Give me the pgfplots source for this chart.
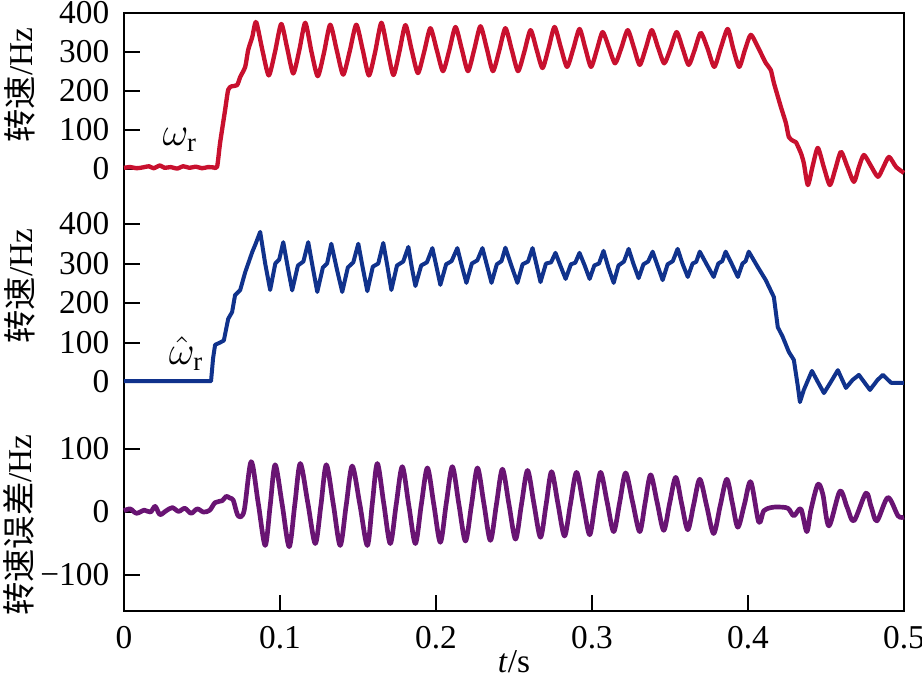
\documentclass[border=0pt]{standalone}
\usepackage{fontspec}
\setmainfont{Liberation Serif}
\newfontfamily\cjk{Noto Sans CJK SC}
\usepackage{pgfplots}
\pgfplotsset{compat=1.18}
\definecolor{cred}{RGB}{200,16,46}
\definecolor{cblue}{RGB}{16,50,140}
\definecolor{cpurp}{RGB}{105,20,115}

\pgfplotstableread{
t v
0.000 3
0.004 5
0.008 2
0.012 4
0.016 7
0.019 2
0.023 9
0.026 3
0.030 5
0.034 1
0.038 7
0.042 3
0.046 6
0.050 2
0.054 5
0.0575 4
0.0597 6
0.0616 67
0.0648 151
0.0668 203
0.0690 212
0.0725 215
0.0745 236
0.0777 262
0.0796 305
0.0822 338
0.0847 377
0.0887 305
0.0928 240
0.0968 300
0.1008 372
0.1046 310
0.1085 245
0.1124 305
0.1162 375
0.1202 300
0.1242 238
0.1282 298
0.1322 370
0.1364 304
0.1405 242
0.1447 302
0.1489 370
0.1530 306
0.1570 240
0.1610 300
0.1650 375
0.1688 308
0.1727 241
0.1765 300
0.1804 369
0.1844 305
0.1884 246
0.1924 300
0.1964 361
0.2005 305
0.2045 251
0.2085 304
0.2125 364
0.2165 308
0.2205 251
0.2245 306
0.2285 366
0.2325 310
0.2365 251
0.2405 303
0.2445 361
0.2486 305
0.2526 251
0.2566 300
0.2606 356
0.2645 306
0.2683 259
0.2722 310
0.2760 364
0.2800 312
0.2840 262
0.2880 308
0.2920 359
0.2957 310
0.2994 262
0.3031 305
0.3068 351
0.3108 312
0.3148 271
0.3188 310
0.3229 356
0.3268 312
0.3306 267
0.3345 310
0.3383 356
0.3423 312
0.3463 271
0.3503 308
0.3543 351
0.3582 308
0.3620 267
0.3658 305
0.3697 349
0.3740 310
0.3784 262
0.3827 312
0.3870 359
0.3907 306
0.3944 262
0.3981 306
0.4018 344
0.4063 313
0.4114 272
0.4146 254
0.4166 221
0.4211 159
0.4243 118
0.4262 82
0.4290 72
0.4307 69
0.4339 41
0.4358 15
0.4384 -41
0.4416 10
0.4448 54
0.4486 5
0.4525 -41
0.4560 0
0.4596 44
0.4638 5
0.4679 -33
0.4711 5
0.4743 36
0.4788 8
0.4833 -20
0.4868 5
0.4904 31
0.4950 5
0.5000 -10
}\redtab

\pgfplotstableread{
t v
0.000 2
0.0558 2
0.0571 60
0.0584 94
0.0616 100
0.0640 105
0.0668 160
0.0693 177
0.0712 220
0.0745 233
0.0777 278
0.0822 329
0.0841 347
0.0873 380
0.0905 300
0.0937 233
0.0970 300
0.0995 310
0.1021 354
0.1050 290
0.1078 232
0.1115 295
0.1150 305
0.1181 354
0.1210 290
0.1239 228
0.1275 290
0.1302 300
0.1329 350
0.1365 285
0.1399 228
0.1435 290
0.1470 303
0.1502 350
0.1530 290
0.1560 230
0.1595 292
0.1630 300
0.1662 352
0.1690 290
0.1714 233
0.1750 295
0.1790 305
0.1823 342
0.1845 290
0.1868 243
0.1905 295
0.1942 303
0.1977 339
0.2003 292
0.2028 246
0.2065 298
0.2100 306
0.2137 339
0.2165 295
0.2195 251
0.2230 300
0.2265 308
0.2298 339
0.2327 295
0.2356 251
0.2390 298
0.2420 306
0.2445 340
0.2483 295
0.2522 251
0.2555 298
0.2590 305
0.2619 339
0.2645 296
0.2670 253
0.2705 300
0.2738 303
0.2766 327
0.2798 294
0.2831 261
0.2865 298
0.2893 302
0.2920 327
0.2952 296
0.2985 261
0.3015 295
0.3045 300
0.3074 332
0.3105 290
0.3139 251
0.3170 295
0.3205 305
0.3235 337
0.3265 300
0.3299 263
0.3330 298
0.3360 305
0.3389 330
0.3420 295
0.3453 258
0.3485 298
0.3518 306
0.3549 337
0.3580 300
0.3614 266
0.3645 300
0.3668 304
0.3691 330
0.3735 298
0.3780 266
0.3810 300
0.3835 306
0.3857 330
0.3897 298
0.3935 266
0.3965 300
0.3985 306
0.4005 330
0.4063 291
0.4114 258
0.4166 215
0.4191 139
0.4223 114
0.4262 76
0.4294 56
0.4320 -12
0.4333 -51
0.4358 -20
0.4410 28
0.4448 0
0.4487 -28
0.4531 0
0.4576 30
0.4628 -15
0.4670 5
0.4711 18
0.4782 -20
0.4830 5
0.4865 18
0.4917 -2
0.5000 -2
}\bluetab

\pgfplotstableread{
t v
0.000 2
0.004 5
0.008 -2
0.013 3
0.017 0
0.020 9
0.023 -4
0.027 2
0.031 7
0.035 1
0.039 6
0.043 -2
0.047 5
0.051 0
0.055 3
0.0584 15
0.063 18
0.0655 25
0.068 22
0.070 19
0.0732 -6
0.077 2
0.0815 80
0.0860 15
0.0905 -53
0.0937 10
0.0969 75
0.1014 12
0.1059 -55
0.1095 12
0.1130 77
0.1178 15
0.1226 -50
0.1262 10
0.1297 75
0.1342 12
0.1386 -53
0.1425 12
0.1463 73
0.1512 12
0.1560 -53
0.1592 14
0.1624 77
0.1665 14
0.1707 -50
0.1745 12
0.1784 72
0.1826 10
0.1868 -50
0.1906 12
0.1945 70
0.1986 12
0.2028 -48
0.2066 14
0.2105 72
0.2147 12
0.2189 -46
0.2228 12
0.2266 70
0.2308 12
0.2349 -45
0.2388 13
0.2426 68
0.2468 12
0.2510 -43
0.2548 12
0.2587 66
0.2628 13
0.2670 -40
0.2706 12
0.2741 64
0.2782 13
0.2824 -38
0.2862 13
0.2901 63
0.2943 14
0.2985 -36
0.3020 14
0.3055 63
0.3097 16
0.3139 -31
0.3178 16
0.3216 62
0.3261 15
0.3306 -31
0.3341 15
0.3376 59
0.3418 15
0.3460 -29
0.3498 14
0.3537 55
0.3575 13
0.3614 -28
0.3652 12
0.3691 52
0.3735 10
0.3780 -34
0.3822 10
0.3864 52
0.3900 14
0.3935 -24
0.3977 12
0.4018 48
0.4069 -16
0.4101 2
0.4146 7
0.4191 8
0.4256 6
0.4294 -6
0.4339 5
0.4377 -31
0.4403 3
0.4448 44
0.4480 28
0.4519 -22
0.4589 33
0.4635 8
0.4679 -14
0.4756 30
0.4790 8
0.4827 -14
0.4897 23
0.4962 -6
0.5000 -8
}\purptab

\begin{document}
\fontsize{10}{12}\selectfont
\begin{tikzpicture}
\pgfplotsset{
  panel/.style={
    scale only axis, width=234pt, xmin=0, xmax=0.5,
    axis line style={draw=none}, xtick=\empty,
    ytick pos=left, tick align=inside, major tick length=4.8pt,
    tick style={black, line width=0.6pt},
    anchor=south west, clip=false,
    /pgf/number format/assume math mode=true,
    yticklabel style={font=\fontsize{10}{12}\selectfont, xshift=-0.9pt},
  }
}
% outer frame with x axis
\begin{axis}[scale only axis, width=234pt, height=179.4pt, at={(0,0)}, anchor=south west,
  xmin=0, xmax=0.5, ymin=0, ymax=1, ytick=\empty,
  xtick={0,0.1,0.2,0.3,0.4,0.5}, xticklabels={0,0.1,0.2,0.3,0.4,0.5},
  xtick pos=bottom, tick align=inside, major tick length=4.8pt,
  axis line style={line width=0.6pt, black},
  tick style={line width=0.6pt, black},
  xticklabel style={font=\fontsize{10}{12}\selectfont, yshift=-1pt}]
\end{axis}
% panel 1
\begin{axis}[panel, at={(0,126.75pt)}, height=52.65pt, ymin=-50, ymax=400,
  ytick={0,100,200,300,400}]
\addplot[cred, line width=1.3pt, line join=round, smooth, tension=0.4] table[x=t, y=v] {\redtab};
\node at (axis cs:0.036,74) {\fontsize{12}{14}\selectfont$\omega_{\mathrm{r}}$};
\end{axis}
% panel 2
\begin{axis}[panel, at={(0,56.85pt)}, height=59.25pt, ymin=-100, ymax=400,
  ytick={0,100,200,300,400}]
\addplot[cblue, line width=1.2pt, line join=round] table[x=t, y=v] {\bluetab};
\node at (axis cs:0.040,72) {\fontsize{12}{14}\selectfont$\hat{\omega}_{\mathrm{r}}$};
\end{axis}
% panel 3
\begin{axis}[panel, at={(0,0)}, height=58.05pt, ymin=-157, ymax=150,
  ytick={-100,0,100}, yticklabels={−100,0,100}]
\addplot[cpurp, line width=1.4pt, line join=round, smooth, tension=0.5] table[x=t, y=v] {\purptab};
\end{axis}
% labels
\node[rotate=90] at (-31.2pt,157.8pt) {{\cjk 转速}/Hz};
\node[rotate=90] at (-31.2pt,97.5pt) {{\cjk 转速}/Hz};
\node[rotate=90] at (-31.5pt,25.8pt) {{\cjk 转速误差}/Hz};
\node at (117pt,-15.3pt) {\textit{t}/s};
\pgfresetboundingbox
\useasboundingbox (-37.2pt,-21.3pt) rectangle (239.4pt,183.3pt);
\end{tikzpicture}
\end{document}
